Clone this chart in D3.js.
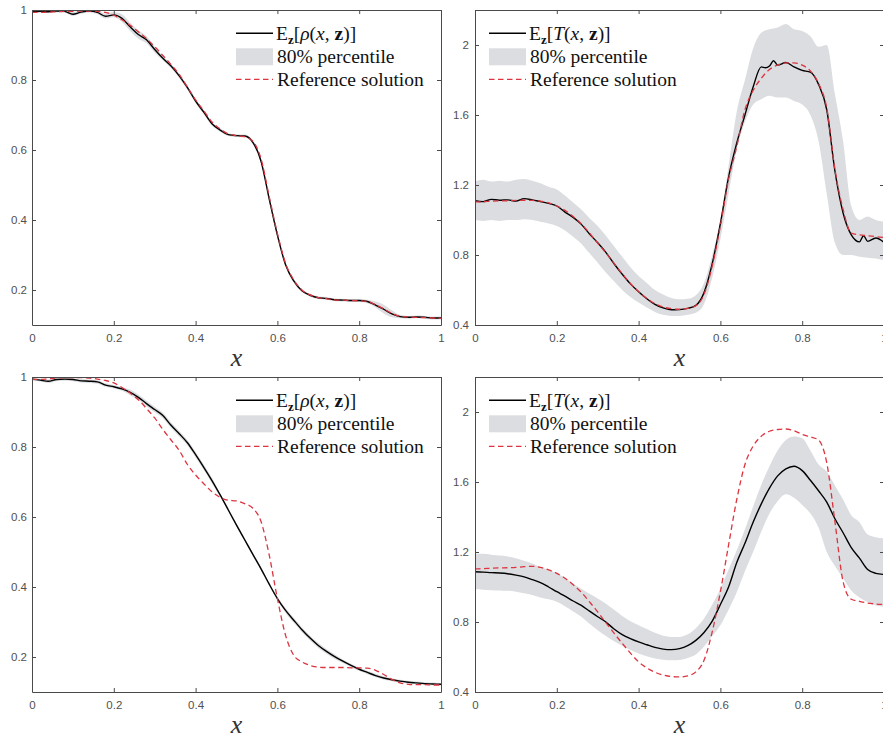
<!DOCTYPE html>
<html><head><meta charset="utf-8">
<script src="https://cdn.jsdelivr.net/npm/d3@7"></script>
<style>body{margin:0;background:#fff}svg{display:block}</style>
</head><body><svg id="c" width="883" height="739"></svg>
<script>
// ---------- DATA ----------
const xGrid = [0,0.02,0.04,0.06,0.08,0.1,0.12,0.14,0.16,0.18,0.2,0.22,0.24,0.26,0.28,0.3,0.32,0.34,0.36,0.38,0.4,0.42,0.44,0.46,0.48,0.5,0.52,0.54,0.56,0.58,0.6,0.62,0.64,0.66,0.68,0.7,0.72,0.74,0.76,0.78,0.8,0.82,0.84,0.86,0.88,0.9,0.92,0.94,0.96,0.98,1];
const xTicks = [0,0.2,0.4,0.6,0.8,1];
const rhoTicks = [0.2,0.4,0.6,0.8,1];
const tTicks = [0.4,0.8,1.2,1.6,2];

// top-left: density, fine
const rhoRefA = [0.993,0.993,0.994,0.995,0.996,0.996,0.997,0.997,0.996,0.993,0.985,0.972,0.956,0.938,0.918,0.895,0.870,0.844,0.816,0.780,0.743,0.712,0.680,0.660,0.646,0.641,0.638,0.625,0.575,0.467,0.362,0.276,0.229,0.200,0.186,0.178,0.175,0.172,0.171,0.170,0.169,0.167,0.158,0.146,0.133,0.125,0.123,0.122,0.121,0.120,0.119];
const rhoMeanA = [0.995,0.996,0.995,0.997,0.996,0.988,0.994,0.997,0.993,0.982,0.986,0.976,0.952,0.930,0.915,0.887,0.862,0.840,0.812,0.778,0.740,0.708,0.675,0.657,0.644,0.641,0.640,0.622,0.568,0.460,0.357,0.272,0.226,0.198,0.185,0.178,0.176,0.172,0.171,0.170,0.170,0.167,0.157,0.145,0.132,0.124,0.122,0.123,0.122,0.120,0.120];
const rhoHiA = [0.999,1.0,0.999,1.0,1.0,0.994,0.999,1.0,0.998,0.99,0.994,0.988,0.964,0.942,0.925,0.896,0.868,0.846,0.818,0.784,0.746,0.714,0.68,0.662,0.648,0.645,0.644,0.627,0.574,0.466,0.363,0.278,0.231,0.202,0.189,0.182,0.18,0.176,0.175,0.174,0.174,0.172,0.167,0.158,0.142,0.129,0.126,0.127,0.126,0.124,0.124];
const rhoLoA = [0.991,0.992,0.991,0.993,0.992,0.983,0.989,0.993,0.988,0.976,0.979,0.966,0.94,0.918,0.905,0.878,0.856,0.834,0.806,0.772,0.734,0.702,0.67,0.652,0.64,0.637,0.636,0.617,0.562,0.454,0.351,0.266,0.221,0.194,0.181,0.174,0.172,0.168,0.167,0.166,0.166,0.162,0.15,0.133,0.122,0.119,0.118,0.119,0.118,0.116,0.116];

// top-right: temperature, fine
const tRefA = [1.103,1.105,1.107,1.109,1.110,1.112,1.113,1.112,1.108,1.098,1.080,1.055,1.020,0.978,0.925,0.868,0.812,0.752,0.693,0.637,0.590,0.552,0.522,0.503,0.493,0.490,0.495,0.510,0.575,0.737,0.966,1.232,1.42,1.63,1.74,1.81,1.86,1.885,1.898,1.898,1.885,1.852,1.78,1.64,1.29,1.06,0.925,0.915,0.91,0.905,0.9];
const tMeanXA = [0,0.02,0.04,0.06,0.08,0.1,0.12,0.14,0.16,0.18,0.2,0.22,0.24,0.26,0.28,0.3,0.32,0.34,0.36,0.38,0.4,0.42,0.44,0.46,0.48,0.5,0.52,0.54,0.56,0.58,0.6,0.62,0.64,0.66,0.68,0.7,0.71,0.72,0.73,0.74,0.76,0.78,0.8,0.82,0.84,0.86,0.88,0.9,0.92,0.94,0.95,0.96,0.98,1];
const tMeanA = [1.11,1.105,1.118,1.113,1.115,1.108,1.122,1.115,1.105,1.095,1.08,1.045,1.015,0.975,0.92,0.87,0.815,0.75,0.69,0.635,0.59,0.55,0.518,0.498,0.487,0.488,0.495,0.512,0.585,0.75,0.98,1.245,1.44,1.60,1.76,1.875,1.87,1.88,1.91,1.885,1.90,1.875,1.855,1.845,1.775,1.63,1.28,1.04,0.915,0.875,0.91,0.878,0.897,0.872];
const tHiA = [1.22,1.23,1.22,1.225,1.22,1.23,1.235,1.225,1.21,1.19,1.175,1.14,1.10,1.06,1.01,0.966,0.91,0.85,0.79,0.73,0.68,0.64,0.60,0.575,0.555,0.547,0.55,0.57,0.64,0.80,1.0,1.31,1.62,1.80,1.98,2.07,2.09,2.10,2.12,2.09,2.08,2.05,1.99,2.0,1.72,1.45,1.08,1.0,1.02,1.0,0.99];
const tLoA = [1.00,0.995,1.0,0.995,1.0,1.0,1.005,1.0,0.99,0.98,0.966,0.94,0.905,0.865,0.81,0.756,0.70,0.65,0.60,0.56,0.528,0.50,0.475,0.458,0.452,0.451,0.458,0.47,0.52,0.67,0.89,1.15,1.40,1.56,1.66,1.69,1.71,1.70,1.70,1.68,1.66,1.60,1.45,1.15,0.87,0.80,0.80,0.79,0.785,0.78,0.77];

// bottom-left: density, coarse
const rhoRefB = [0.993,0.993,0.995,0.997,0.998,0.998,0.998,0.997,0.994,0.99,0.983,0.97,0.954,0.935,0.91,0.883,0.85,0.82,0.79,0.75,0.72,0.695,0.672,0.656,0.648,0.646,0.638,0.625,0.587,0.491,0.367,0.262,0.205,0.186,0.176,0.171,0.17,0.17,0.17,0.169,0.169,0.168,0.162,0.15,0.136,0.126,0.122,0.121,0.121,0.12,0.12];
const rhoMeanB = [0.994,0.991,0.988,0.993,0.994,0.993,0.989,0.988,0.986,0.977,0.972,0.966,0.956,0.942,0.924,0.907,0.89,0.862,0.838,0.812,0.778,0.742,0.704,0.663,0.62,0.577,0.535,0.493,0.452,0.408,0.367,0.333,0.305,0.278,0.254,0.233,0.216,0.201,0.188,0.176,0.165,0.156,0.147,0.14,0.135,0.131,0.128,0.126,0.124,0.123,0.122];
const rhoHiB = [0.998,0.995,0.993,0.998,0.999,0.998,0.994,0.993,0.991,0.982,0.977,0.971,0.964,0.95,0.932,0.915,0.898,0.87,0.846,0.82,0.786,0.75,0.712,0.668,0.625,0.582,0.54,0.498,0.457,0.413,0.372,0.34,0.312,0.285,0.261,0.24,0.223,0.208,0.193,0.181,0.17,0.161,0.152,0.145,0.139,0.135,0.132,0.13,0.128,0.127,0.126];
const rhoLoB = [0.99,0.987,0.983,0.988,0.989,0.988,0.984,0.983,0.981,0.972,0.967,0.961,0.948,0.934,0.916,0.899,0.882,0.854,0.83,0.804,0.77,0.734,0.696,0.658,0.615,0.572,0.53,0.488,0.447,0.403,0.362,0.326,0.298,0.271,0.247,0.226,0.209,0.194,0.183,0.171,0.16,0.151,0.142,0.135,0.131,0.127,0.124,0.122,0.12,0.119,0.118];

// bottom-right: temperature, coarse
const tRefB = [1.103,1.105,1.107,1.109,1.11,1.112,1.116,1.118,1.112,1.098,1.078,1.05,1.013,0.97,0.915,0.858,0.796,0.736,0.678,0.622,0.572,0.538,0.513,0.497,0.488,0.486,0.492,0.515,0.581,0.744,0.973,1.24,1.50,1.70,1.805,1.862,1.89,1.90,1.903,1.893,1.872,1.858,1.84,1.71,1.374,1.03,0.93,0.918,0.908,0.903,0.9];
const tMeanB = [1.087,1.085,1.082,1.08,1.076,1.068,1.058,1.042,1.025,1.0,0.973,0.948,0.92,0.895,0.862,0.83,0.8,0.76,0.728,0.705,0.686,0.67,0.655,0.645,0.642,0.648,0.665,0.695,0.74,0.805,0.9,1.0,1.14,1.25,1.37,1.475,1.565,1.635,1.675,1.69,1.665,1.61,1.55,1.485,1.39,1.31,1.225,1.165,1.1,1.078,1.072];
const tHiB = [1.19,1.19,1.185,1.18,1.175,1.164,1.15,1.135,1.115,1.098,1.078,1.05,1.02,0.99,0.962,0.935,0.905,0.87,0.835,0.805,0.782,0.76,0.738,0.722,0.715,0.715,0.73,0.765,0.82,0.9,0.99,1.1,1.21,1.33,1.46,1.584,1.69,1.78,1.84,1.86,1.85,1.78,1.70,1.66,1.58,1.5,1.41,1.37,1.3,1.285,1.278];
const tLoB = [0.988,0.985,0.982,0.98,0.978,0.973,0.965,0.955,0.94,0.93,0.916,0.89,0.86,0.83,0.79,0.753,0.72,0.69,0.665,0.64,0.62,0.605,0.592,0.585,0.581,0.583,0.595,0.615,0.66,0.72,0.782,0.87,0.97,1.09,1.2,1.317,1.42,1.49,1.53,1.51,1.469,1.42,1.34,1.2,1.12,1.05,0.98,0.94,0.915,0.895,0.887];

const legendLabels = ["80% percentile", "Reference solution"];

// ---------- LAYOUT ----------
const panels = [
  {id:"a", l:32,  r:441, t:10,  b:325, yDom:[0.1,1],   yTicks:rhoTicks, v:"ρ",
   refX:xGrid, ref:rhoRefA, meanX:xGrid, mean:rhoMeanA, bandX:xGrid, lo:rhoLoA, hi:rhoHiA, lx:236, tx:276, ly:10},
  {id:"b", l:475, r:884, t:10,  b:325, yDom:[0.4,2.2], yTicks:tTicks, v:"T",
   refX:xGrid, ref:tRefA, meanX:tMeanXA, mean:tMeanA, bandX:xGrid, lo:tLoA, hi:tHiA, lx:489, tx:529, ly:10},
  {id:"c", l:32,  r:441, t:377, b:692, yDom:[0.1,1],   yTicks:rhoTicks, v:"ρ",
   refX:xGrid, ref:rhoRefB, meanX:xGrid, mean:rhoMeanB, bandX:xGrid, lo:rhoLoB, hi:rhoHiB, lx:236, tx:276, ly:377},
  {id:"d", l:475, r:884, t:377, b:692, yDom:[0.4,2.2], yTicks:tTicks, v:"T",
   refX:xGrid, ref:tRefB, meanX:xGrid, mean:tMeanB, bandX:xGrid, lo:tLoB, hi:tHiB, lx:489, tx:529, ly:377}
];

const svg = d3.select("#c");
const AX = "#4a4a4a", RED = "#dc3540", BAND = "#dcdde0";
const fmt = d3.format("~g");

panels.forEach(p => {
  const x = d3.scaleLinear().domain([0,1]).range([p.l,p.r]);
  const y = d3.scaleLinear().domain(p.yDom).range([p.b,p.t]);
  const g = svg.append("g");
  const clipId = "clip-" + p.id;
  g.append("clipPath").attr("id", clipId).append("rect")
    .attr("x", p.l).attr("y", p.t).attr("width", p.r-p.l).attr("height", p.b-p.t);
  const plot = g.append("g").attr("clip-path", `url(#${clipId})`);

  const band = p.bandX.map((xv,i)=>({x:xv, lo:p.lo[i], hi:p.hi[i]}));
  plot.append("path").datum(band)
    .attr("fill", BAND)
    .attr("d", d3.area().x(d=>x(d.x)).y0(d=>y(d.lo)).y1(d=>y(d.hi)).curve(d3.curveMonotoneX));

  const mean = p.meanX.map((xv,i)=>[xv, p.mean[i]]);
  plot.append("path").datum(mean)
    .attr("fill","none").attr("stroke","#000").attr("stroke-width",1.4).attr("stroke-linejoin","round")
    .attr("d", d3.line().x(d=>x(d[0])).y(d=>y(d[1])).curve(d3.curveMonotoneX));

  const ref = p.refX.map((xv,i)=>[xv, p.ref[i]]);
  plot.append("path").datum(ref)
    .attr("fill","none").attr("stroke",RED).attr("stroke-width",1.3).attr("stroke-dasharray","5.5,3.5")
    .attr("d", d3.line().x(d=>x(d[0])).y(d=>y(d[1])).curve(d3.curveMonotoneX));

  // axes (MATLAB style box with inward ticks)
  const styleAxis = sel => {
    sel.select(".domain").attr("stroke", AX);
    sel.selectAll(".tick line").attr("stroke", AX);
    sel.selectAll("text").attr("fill", "#505050").style("font-family","'Liberation Sans', Arial, sans-serif").style("font-size","11.5px");
  };
  g.append("g").attr("transform",`translate(0,${p.b})`)
    .call(d3.axisBottom(x).tickValues(xTicks).tickFormat(fmt).tickSizeInner(-4).tickSizeOuter(0).tickPadding(9))
    .call(styleAxis);
  g.append("g").attr("transform",`translate(0,${p.t})`)
    .call(d3.axisTop(x).tickValues(xTicks).tickFormat("").tickSizeInner(-4).tickSizeOuter(0))
    .call(styleAxis);
  g.append("g").attr("transform",`translate(${p.l},0)`)
    .call(d3.axisLeft(y).tickValues(p.yTicks).tickFormat(fmt).tickSizeInner(-4).tickSizeOuter(0).tickPadding(p.l > 100 ? 6 : 5))
    .call(styleAxis);
  g.append("g").attr("transform",`translate(${p.r},0)`)
    .call(d3.axisRight(y).tickValues(p.yTicks).tickFormat("").tickSizeInner(-4).tickSizeOuter(0))
    .call(styleAxis);

  // x label
  g.append("text").attr("x",(p.l+p.r)/2).attr("y",p.b+41).attr("text-anchor","middle")
    .style("font-family","'Liberation Serif', 'DejaVu Serif', serif").style("font-style","italic").style("font-size","26px")
    .attr("fill","#333").text("x");

  // legend
  const o = p.ly;
  const lg = g.append("g").style("font-family","'Liberation Serif', 'DejaVu Serif', serif").style("font-size","19.5px").attr("fill","#111");
  lg.append("line").attr("x1",p.lx).attr("x2",p.lx+37).attr("y1",o+23.3).attr("y2",o+23.3).attr("stroke","#000").attr("stroke-width",1.4);
  lg.append("rect").attr("x",p.lx).attr("y",o+38.3).attr("width",37).attr("height",17).attr("fill",BAND);
  lg.append("line").attr("x1",p.lx).attr("x2",p.lx+37).attr("y1",o+69.3).attr("y2",o+69.3).attr("stroke",RED).attr("stroke-width",1.3).attr("stroke-dasharray","5.5,3.5");
  const t1 = lg.append("text").attr("x",p.tx).attr("y",o+30);
  t1.append("tspan").text("E");
  t1.append("tspan").attr("dy",4).style("font-size","13px").style("font-weight","bold").text("z");
  t1.append("tspan").attr("dy",-4).text("[");
  t1.append("tspan").style("font-style","italic").text(p.v);
  t1.append("tspan").text("(");
  t1.append("tspan").style("font-style","italic").text("x");
  t1.append("tspan").text(", ");
  t1.append("tspan").style("font-weight","bold").text("z");
  t1.append("tspan").text(")]");
  lg.append("text").attr("x",p.tx+1).attr("y",o+53).text(legendLabels[0]);
  lg.append("text").attr("x",p.tx+1).attr("y",o+75.5).text(legendLabels[1]);
});
</script>
</body></html>
